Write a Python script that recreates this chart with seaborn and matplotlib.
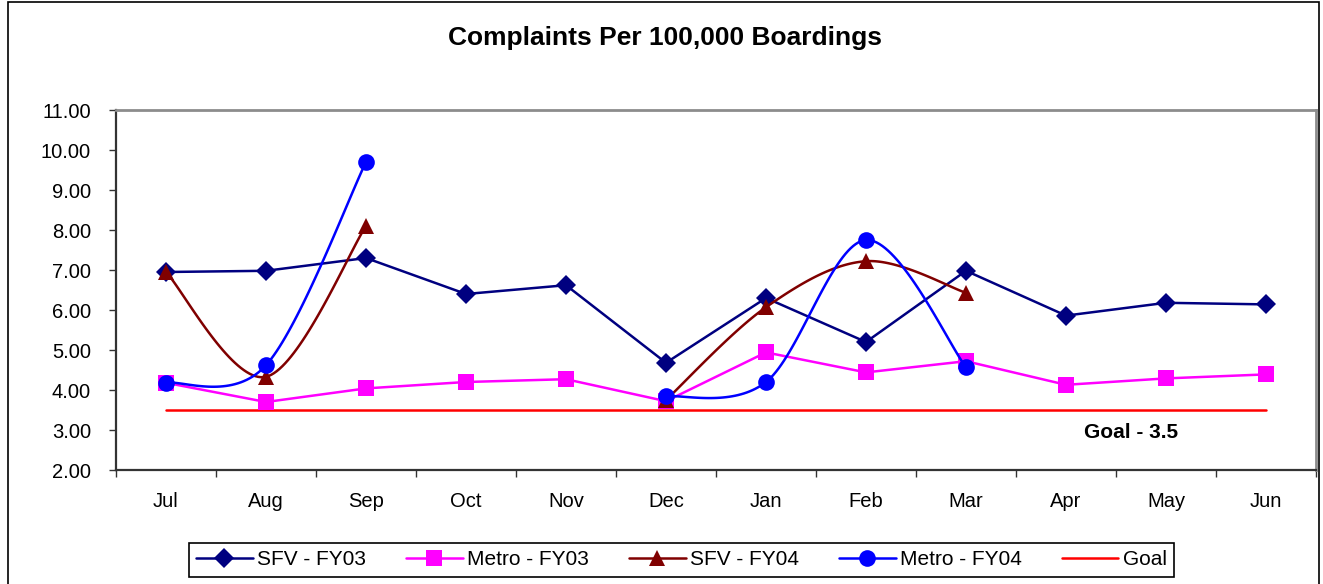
import numpy as np
import pandas as pd
import seaborn as sns
import matplotlib
matplotlib.use('Agg')
import matplotlib.pyplot as plt
from matplotlib.lines import Line2D
from matplotlib.patches import Rectangle
from matplotlib.ticker import FixedLocator, FormatStrFormatter

# data
months = ['Jul', 'Aug', 'Sep', 'Oct', 'Nov', 'Dec', 'Jan', 'Feb', 'Mar', 'Apr', 'May', 'Jun']
sfv_fy03 = [6.95, 6.98, 7.30, 6.40, 6.62, 4.68, 6.30, 5.20, 6.98, 5.86, 6.18, 6.14]
metro_fy03 = [4.18, 3.70, 4.04, 4.20, 4.27, 3.72, 4.94, 4.44, 4.72, 4.13, 4.29, 4.39]
sfv_fy04 = [6.95, 4.33, 8.10, np.nan, np.nan, 3.75, 6.07, 7.22, 6.43, np.nan, np.nan, np.nan]
metro_fy04 = [4.18, 4.62, 9.70, np.nan, np.nan, 3.84, 4.20, 7.75, 4.57, np.nan, np.nan, np.nan]
goal = [3.5] * 12


def smooth(x, y, n=40):
    '''
    Excel style smoothed line (Catmull-Rom bezier) through each run of points
    input= x positions and values, NaN splits runs
    outut= list of (xs, ys) arrays, one per run
    '''
    x = np.asarray(x, float)
    y = np.asarray(y, float)
    ok = ~np.isnan(y)
    runs, cur = [], []
    for i in range(len(y)):
        if ok[i]:
            cur.append(i)
        elif cur:
            runs.append(cur)
            cur = []
    if cur:
        runs.append(cur)
    out = []
    t = np.linspace(0, 1, n)[:, None]
    for r in runs:
        P = np.column_stack([x[r], y[r]])
        pieces = []
        for i in range(len(P) - 1):
            prev = P[i - 1] if i > 0 else P[i]
            nxt = P[i + 2] if i + 2 < len(P) else P[i + 1]
            c1 = P[i] + (P[i + 1] - prev) / 6
            c2 = P[i + 1] - (nxt - P[i]) / 6
            b = ((1 - t) ** 3) * P[i] + 3 * ((1 - t) ** 2) * t * c1 + 3 * (1 - t) * t ** 2 * c2 + t ** 3 * P[i + 1]
            pieces.append(b)
        seg = np.vstack(pieces)
        out.append((seg[:, 0], seg[:, 1]))
    return out


sns.set_theme(style='white')
plt.rcParams['font.family'] = ['Liberation Sans', 'DejaVu Sans']
plt.rcParams['text.color'] = 'black'
plt.rcParams['xtick.color'] = 'black'
plt.rcParams['ytick.color'] = 'black'

fig = plt.figure(figsize=(13.23, 5.84), dpi=100)
ax = fig.add_axes([116 / 1323, 1 - 470 / 584, 1200 / 1323, 360 / 584])

xpos = np.arange(len(months))
df = pd.DataFrame({'x': xpos, 'sfv03': sfv_fy03, 'metro03': metro_fy03,
                   'sfv04': sfv_fy04, 'metro04': metro_fy04, 'goal': goal})

lw = 1.8
sns.lineplot(data=df, x='x', y='goal', color='#FF0000', lw=lw, ax=ax)
sns.lineplot(data=df, x='x', y='metro03', color='#FF00FF', lw=lw, marker='s',
             markersize=11, markeredgewidth=0, ax=ax)
sns.lineplot(data=df, x='x', y='sfv03', color='#000080', lw=lw, marker='D',
             markersize=10, markeredgewidth=0, ax=ax)

for col, color, mk, ms in [('sfv04', '#800000', '^', 11), ('metro04', '#0000FF', 'o', 12)]:
    for xs, ys in smooth(df['x'], df[col]):
        sns.lineplot(x=xs, y=ys, color=color, lw=lw, sort=False, estimator=None, ax=ax)
    sub = df.dropna(subset=[col])
    ax.plot(sub['x'], sub[col], ls='none', marker=mk, ms=ms, color=color, mew=0)

ax.set_xlim(-0.5, 11.5)
ax.set_ylim(2, 11)
ax.set_xlabel('')
ax.set_ylabel('')

# category boundaries as tick marks, labels in the middle
ax.xaxis.set_major_locator(FixedLocator(np.arange(-0.5, 12, 1)))
ax.xaxis.set_minor_locator(FixedLocator(xpos))
ax.set_xticklabels([])
ax.set_xticklabels(months, minor=True)
ax.tick_params(axis='x', which='major', bottom=True, length=5, width=1, color='#333333', direction='out')
ax.tick_params(axis='x', which='minor', bottom=True, length=0, pad=16, labelsize=14.5)
ax.set_yticks(np.arange(2, 11.5, 1))
ax.yaxis.set_major_formatter(FormatStrFormatter('%.2f'))
ax.tick_params(axis='y', left=True, length=5, width=1, color='#333333', pad=13, labelsize=14.5)

for s in ['left', 'bottom']:
    ax.spines[s].set_color('#333333')
    ax.spines[s].set_linewidth(1.6)
for s in ['top', 'right']:
    ax.spines[s].set_color('#8c8c8c')
    ax.spines[s].set_linewidth(2)

ax.text(9.65, 2.93, 'Goal - 3.5', fontsize=15, fontweight='bold', ha='center', va='center')

fig.text(665 / 1323, 1 - 38 / 584, 'Complaints Per 100,000 Boardings',
         fontsize=19, fontweight='bold', ha='center', va='center')

handles = [
    Line2D([], [], color='#000080', lw=lw, marker='D', ms=10, mew=0),
    Line2D([], [], color='#FF00FF', lw=lw, marker='s', ms=11, mew=0),
    Line2D([], [], color='#800000', lw=lw, marker='^', ms=11, mew=0),
    Line2D([], [], color='#0000FF', lw=lw, marker='o', ms=12, mew=0),
    Line2D([], [], color='#FF0000', lw=lw),
]
labels = ['SFV - FY03', 'Metro - FY03', 'SFV - FY04', 'Metro - FY04', 'Goal']
leg = fig.legend(handles, labels, ncol=5, loc='upper left',
                 bbox_to_anchor=(189 / 1323, 1 - 543 / 584), fontsize=15,
                 frameon=True, fancybox=False, edgecolor='black', framealpha=1,
                 handlelength=2.7, handletextpad=0.2, columnspacing=1.95,
                 borderpad=0.35, borderaxespad=0)
leg.get_frame().set_linewidth(1.2)

# outer chart border
fig.patches.append(Rectangle((8 / 1323, -0.05), 1311 / 1323, 1.05 - 2 / 584,
                             transform=fig.transFigure, fill=False,
                             edgecolor='black', lw=1.2))

fig.savefig('out.png', dpi=100)
